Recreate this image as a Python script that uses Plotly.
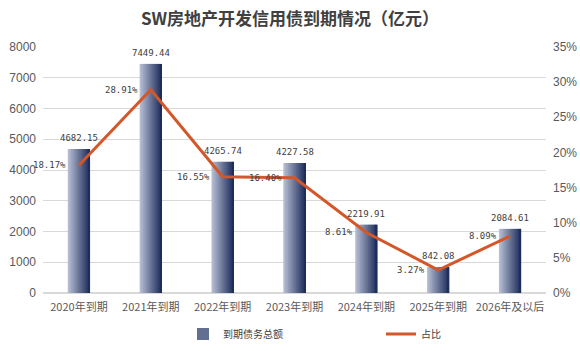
import plotly.graph_objects as go

categories = ["2020年到期", "2021年到期", "2022年到期", "2023年到期", "2024年到期", "2025年到期", "2026年及以后"]
amounts = [4682.15, 7449.44, 4265.74, 4227.58, 2219.91, 842.08, 2084.61]
shares = [18.17, 28.91, 16.55, 16.40, 8.61, 3.27, 8.09]
amount_labels = ["4682.15", "7449.44", "4265.74", "4227.58", "2219.91", "842.08", "2084.61"]
share_labels = ["18.17%", "28.91%", "16.55%", "16.40%", "8.61%", "3.27%", "8.09%"]
y_ticks = [0, 1000, 2000, 3000, 4000, 5000, 6000, 7000, 8000]
y2_ticks = [0, 5, 10, 15, 20, 25, 30, 35]
y2_ticklabels = ["0%", "5%", "10%", "15%", "20%", "25%", "30%", "35%"]

LABEL_FONT = dict(family="DejaVu Sans Mono", size=9, color="#404040")
GRAY = "#595959"

fig = go.Figure()

# gradient bars built from overlapping slices
n = 14
total_w = 0.31
w = total_w / n
c0 = (180, 188, 210)
c1 = (30, 45, 92)
for i in range(n):
    t = i / (n - 1)
    col = tuple(int(round(c0[k] + (c1[k] - c0[k]) * t)) for k in range(3))
    wi = w * 1.8 if i < n - 1 else w
    fig.add_trace(go.Bar(
        x=categories, y=amounts, width=wi, offset=-total_w / 2 + i * w,
        marker=dict(color="rgb(%d,%d,%d)" % col, line=dict(width=0)),
        name="到期债务总额", legendgroup="bar",
        showlegend=(i == n // 2), hoverinfo="skip",
    ))

fig.add_trace(go.Scatter(
    x=categories, y=shares, yaxis="y2", mode="lines",
    line=dict(color="#d4572a", width=3), name="占比",
))

for c, v, lab in zip(categories, amounts, amount_labels):
    fig.add_annotation(x=c, y=v, text=lab, showarrow=False, yanchor="bottom",
                       yshift=4, font=LABEL_FONT)
for c, v, lab in zip(categories, shares, share_labels):
    fig.add_annotation(x=c, y=v, yref="y2", text=lab, showarrow=False,
                       xanchor="right", yanchor="middle", xshift=-11, font=LABEL_FONT)

fig.update_layout(
    width=580, height=351,
    margin=dict(l=43, r=34, t=47, b=58, autoexpand=False),
    paper_bgcolor="white", plot_bgcolor="white",
    barmode="overlay",
    title=dict(text="<b>SW房地产开发信用债到期情况（亿元）</b>", x=0.5, xanchor="center",
               y=0.945, yanchor="middle",
               font=dict(family="Noto Sans CJK SC", size=17, color="#404040")),
    xaxis=dict(tickfont=dict(family="Noto Sans CJK SC", size=11, color=GRAY),
               range=[-0.5, len(categories) - 0.5],
               showgrid=False, showline=False, ticks="", automargin=False,
               ticklabelstandoff=6),
    yaxis=dict(range=[0, 8000], tickvals=y_ticks, gridcolor="#d9d9d9", gridwidth=1,
               zeroline=True, zerolinecolor="#d9d9d9", automargin=False,
               ticklabelstandoff=6,
               tickfont=dict(family="Liberation Sans", size=12, color=GRAY), ticks=""),
    yaxis2=dict(range=[0, 35], tickvals=y2_ticks, ticktext=y2_ticklabels,
                overlaying="y", side="right", showgrid=False, zeroline=False,
                automargin=False, ticklabelstandoff=6,
                tickfont=dict(family="Liberation Sans", size=12, color=GRAY)),
    legend=dict(orientation="h", xref="container", yref="container",
                x=183 / 580, xanchor="left", y=1 - 334 / 351, yanchor="middle",
                font=dict(family="Noto Sans CJK SC", size=10, color="#404040"),
                entrywidth=153, entrywidthmode="pixels"),
    showlegend=True,
)

fig.write_html("out.html")
